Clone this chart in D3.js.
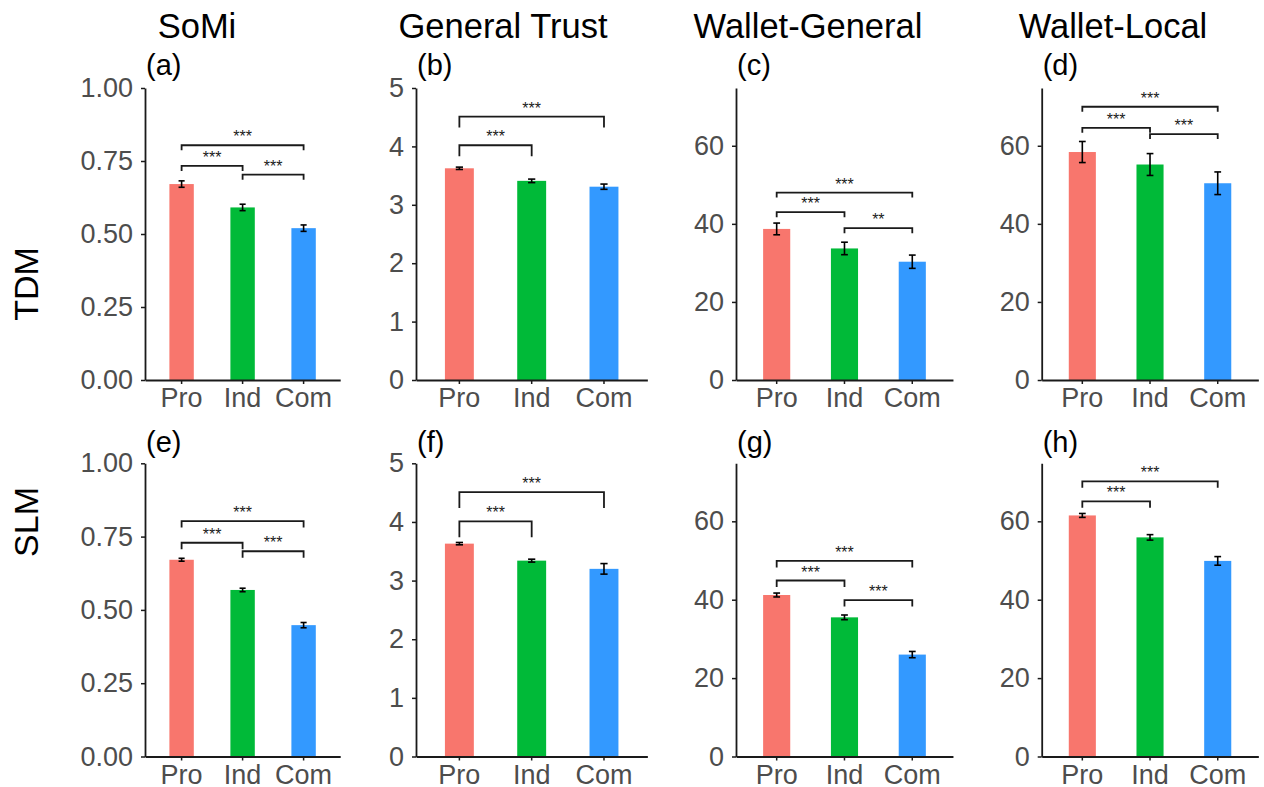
<!DOCTYPE html>
<html>
<head>
<meta charset="utf-8">
<script src="https://cdn.jsdelivr.net/npm/d3@7"></script>
<style>
  html, body { margin: 0; padding: 0; background: #fff; }
  svg { display: block; font-family: "Liberation Sans", Arial, Helvetica, sans-serif; }
</style>
</head>
<body>
<svg id="chart" width="1264" height="787"></svg>
<script>
// Groups shown on each x axis and their fill colours
const groups = ["Pro", "Ind", "Com"];
const groupColors = ["#F8766D", "#00BA38", "#3399FF"];

// Column titles (measures) and row labels (models)
const measures = ["SoMi", "General Trust", "Wallet-General", "Wallet-Local"];
const models = ["TDM", "SLM"];
const panelTags = [["(a)", "(b)", "(c)", "(d)"], ["(e)", "(f)", "(g)", "(h)"]];

// Y-axis upper limits and tick values per measure
const yLimits = [1, 5, 74.8, 74.8];
const yTicks = [
  [0, 0.25, 0.5, 0.75, 1],
  [0, 1, 2, 3, 4, 5],
  [0, 20, 40, 60],
  [0, 20, 40, 60]
];
const yTickFormats = [".2f", "d", "d", "d"];

// Means (Pro, Ind, Com) per measure, TDM row
const tdmMeans = [
  [0.671, 0.591, 0.520],
  [3.625, 3.410, 3.310],
  [38.7, 33.7, 30.3],
  [58.4, 55.2, 50.4]
];
const tdmErrors = [
  [0.011, 0.011, 0.011],
  [0.02, 0.03, 0.045],
  [1.5, 1.6, 1.7],
  [2.7, 2.8, 2.9]
];

// Means (Pro, Ind, Com) per measure, SLM row
const slmMeans = [
  [0.671, 0.568, 0.448],
  [3.63, 3.34, 3.20],
  [41.2, 35.5, 26.0],
  [61.5, 55.9, 49.9]
];
const slmErrors = [
  [0.005, 0.006, 0.009],
  [0.02, 0.025, 0.09],
  [0.5, 0.6, 0.8],
  [0.5, 0.7, 1.1]
];

// Significance brackets: [from group, to group, height, label]
const tdmBrackets = [
  [[0, 2, 0.804, "***"], [0, 1, 0.733, "***"], [1, 2, 0.703, "***"]],
  [[0, 2, 4.51, "***"], [0, 1, 4.02, "***"]],
  [[0, 2, 48.0, "***"], [0, 1, 43.0, "***"], [1, 2, 38.9, "**"]],
  [[0, 2, 70.0, "***"], [0, 1, 64.6, "***"], [1, 2, 63.0, "***"]]
];
const slmBrackets = [
  [[0, 2, 0.803, "***"], [0, 1, 0.729, "***"], [1, 2, 0.700, "***"]],
  [[0, 2, 4.51, "***"], [0, 1, 4.01, "***"]],
  [[0, 2, 49.9, "***"], [0, 1, 44.9, "***"], [1, 2, 39.9, "***"]],
  [[0, 2, 70.2, "***"], [0, 1, 65.1, "***"]]
];

// ---- layout ----
const columns = [
  { x0: 145, step: 61.0, titleX: 197 },
  { x0: 416, step: 72.3, titleX: 503 },
  { x0: 736, step: 67.8, titleX: 808 },
  { x0: 1041.7, step: 67.7, titleX: 1113 }
];
const rows = [
  { top: 88, base: 380, tagY: 75, labelY: 284, tips: [5, 11, 5, 5] },
  { top: 463.3, base: 756.5, tagY: 452, labelY: 522, tips: [6.5, 16, 6.5, 6.5] }
];
const rowData = [
  { means: tdmMeans, errors: tdmErrors, brackets: tdmBrackets },
  { means: slmMeans, errors: slmErrors, brackets: slmBrackets }
];

const svg = d3.select("#chart");
const tickColor = "#4D4D4D";
const lineColor = "#1a1a1a";

// Column titles
svg.selectAll("text.measure")
  .data(measures)
  .join("text")
  .attr("class", "measure")
  .attr("x", (d, i) => columns[i].titleX)
  .attr("y", 38)
  .attr("text-anchor", "middle")
  .attr("font-size", 34.5)
  .attr("fill", "#000")
  .text(d => d);

// Row labels
models.forEach((m, r) => {
  svg.append("text")
    .attr("transform", `translate(38,${rows[r].labelY}) rotate(-90)`)
    .attr("text-anchor", "middle")
    .attr("font-size", 34)
    .attr("fill", "#000")
    .text(m);
});

rows.forEach((row, r) => {
  columns.forEach((col, c) => {
    const means = rowData[r].means[c];
    const errs = rowData[r].errors[c];
    const brackets = rowData[r].brackets[c];
    const data = groups.map((g, i) => ({ g, mean: means[i], err: errs[i], color: groupColors[i] }));

    const x = d3.scaleBand()
      .domain(groups)
      .range([col.x0, col.x0 + 3.2 * col.step])
      .paddingInner(0.6)
      .paddingOuter(0.4);
    const y = d3.scaleLinear()
      .domain([0, yLimits[c]])
      .range([row.base, row.top]);

    const g = svg.append("g").attr("class", "panel");

    // Bars
    g.selectAll("rect.bar")
      .data(data)
      .join("rect")
      .attr("class", "bar")
      .attr("x", d => x(d.g))
      .attr("width", x.bandwidth())
      .attr("y", d => y(d.mean))
      .attr("height", d => y(0) - y(d.mean))
      .attr("fill", d => d.color);

    // Error bars
    const capHalf = 0.05 * x.step();
    const eb = g.selectAll("g.err")
      .data(data)
      .join("g")
      .attr("class", "err")
      .attr("stroke", "#000")
      .attr("stroke-width", 1.6)
      .attr("fill", "none");
    eb.append("line")
      .attr("x1", d => x(d.g) + x.bandwidth() / 2)
      .attr("x2", d => x(d.g) + x.bandwidth() / 2)
      .attr("y1", d => y(d.mean - d.err))
      .attr("y2", d => y(d.mean + d.err));
    eb.append("line")
      .attr("x1", d => x(d.g) + x.bandwidth() / 2 - capHalf)
      .attr("x2", d => x(d.g) + x.bandwidth() / 2 + capHalf)
      .attr("y1", d => y(d.mean + d.err))
      .attr("y2", d => y(d.mean + d.err));
    eb.append("line")
      .attr("x1", d => x(d.g) + x.bandwidth() / 2 - capHalf)
      .attr("x2", d => x(d.g) + x.bandwidth() / 2 + capHalf)
      .attr("y1", d => y(d.mean - d.err))
      .attr("y2", d => y(d.mean - d.err));

    // Significance brackets
    const tip = row.tips[c];
    const cx = gi => x(groups[gi]) + x.bandwidth() / 2;
    brackets.forEach(([a, b, h, label]) => {
      const yy = y(h);
      g.append("path")
        .attr("d", `M${cx(a)},${yy + tip}V${yy}H${cx(b)}V${yy + tip}`)
        .attr("fill", "none")
        .attr("stroke", lineColor)
        .attr("stroke-width", 1.8);
      g.append("text")
        .attr("x", (cx(a) + cx(b)) / 2)
        .attr("y", yy - 3)
        .attr("text-anchor", "middle")
        .attr("font-size", 16)
        .attr("fill", "#1a1a1a")
        .text(label);
    });

    // Axes
    const yAxis = d3.axisLeft(y)
      .tickValues(yTicks[c])
      .tickFormat(d3.format(yTickFormats[c]))
      .tickSize(4)
      .tickSizeOuter(0)
      .tickPadding(8);
    const ya = g.append("g").attr("transform", `translate(${col.x0},0)`).call(yAxis);

    const xAxis = d3.axisBottom(x)
      .tickSize(4)
      .tickSizeOuter(0)
      .tickPadding(4);
    const xa = g.append("g").attr("transform", `translate(0,${row.base})`).call(xAxis);

    [ya, xa].forEach(a => {
      a.select(".domain").attr("stroke", lineColor).attr("stroke-width", 1.8);
      a.selectAll(".tick line").attr("stroke", lineColor).attr("stroke-width", 1.5);
      a.selectAll(".tick text")
        .attr("fill", tickColor)
        .attr("font-size", 27)
        .attr("font-family", "Liberation Sans, Arial, sans-serif");
    });

    // Panel tag
    g.append("text")
      .attr("x", col.x0 + 1)
      .attr("y", row.tagY)
      .attr("font-size", 29)
      .attr("fill", "#000")
      .text(panelTags[r][c]);
  });
});
</script>
</body>
</html>
